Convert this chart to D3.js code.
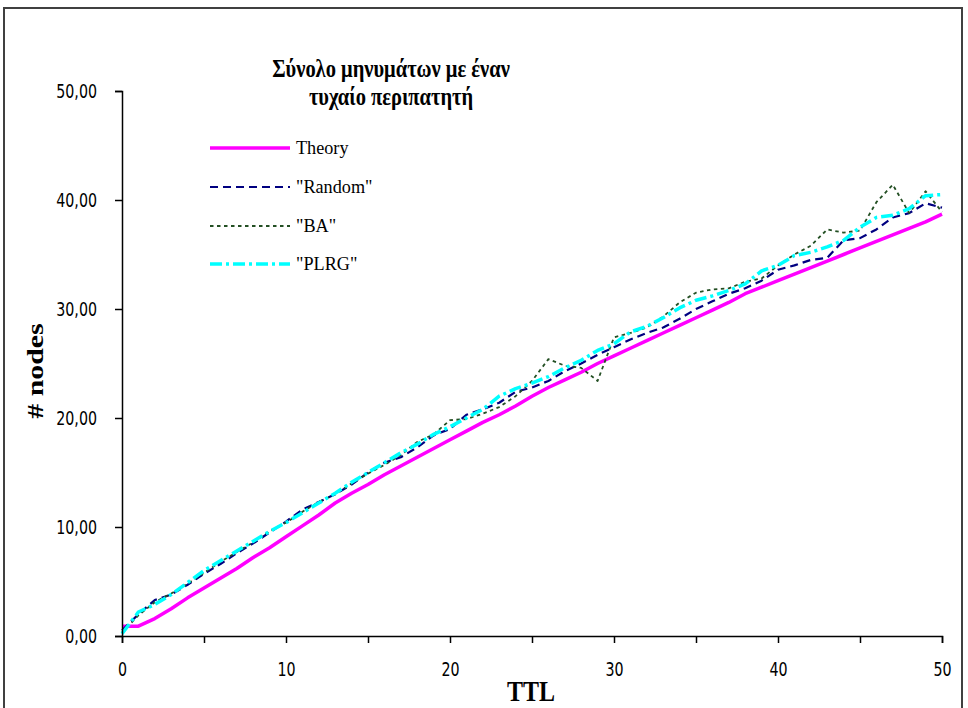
<!DOCTYPE html>
<html>
<head>
<meta charset="utf-8">
<script src="https://cdn.jsdelivr.net/npm/d3@7"></script>
<style>
  html, body { margin: 0; padding: 0; background: #fff; }
  svg { display: block; }
</style>
</head>
<body>
<svg id="chart" width="968" height="708"></svg>
<script>
// ---- data ----
const ttl = d3.range(0, 51);
const theory = [0.9,0.9,1.6,2.5,3.5,4.4,5.3,6.2,7.2,8.1,9.1,10.1,11.1,12.2,13.1,13.9,14.8,15.6,16.4,17.2,18.0,18.8,19.6,20.3,21.1,22.0,22.8,23.5,24.2,25.0,25.7,26.4,27.1,27.8,28.5,29.2,29.9,30.6,31.4,32.0,32.6,33.2,33.8,34.4,35.0,35.6,36.2,36.8,37.4,38.0,38.7];
const random = [0.5,2.0,3.3,3.8,4.7,5.7,6.6,7.6,8.5,9.5,10.5,11.6,12.3,13.0,13.9,15.0,15.9,16.4,17.3,18.4,19.0,20.3,20.8,21.4,22.4,22.8,23.4,24.3,25.0,25.8,26.5,27.2,27.8,28.3,29.1,30.0,30.7,31.4,31.9,32.6,33.6,34.0,34.5,34.7,36.3,36.5,37.3,38.4,38.8,39.7,39.3];
const ba = [0.3,1.9,3.1,3.9,4.8,5.8,6.8,7.7,8.6,9.6,10.4,11.4,12.3,13.0,14.0,14.9,15.7,16.6,17.8,18.5,19.8,19.9,20.4,21.0,22.0,23.4,25.4,24.8,24.6,23.4,27.4,27.8,28.3,29.3,30.6,31.5,31.8,31.9,32.5,32.8,34.0,35.0,35.8,37.3,37.0,37.2,39.8,41.4,38.8,40.8,38.9];
const plrg = [0.2,2.2,2.9,3.8,4.9,6.0,6.9,7.8,8.7,9.6,10.4,11.3,12.2,13.1,14.1,15.0,15.9,16.8,17.6,18.5,19.2,20.0,20.8,22.0,22.7,23.2,23.8,24.6,25.3,26.2,26.8,27.9,28.4,29.2,30.1,30.8,31.2,31.7,32.3,33.5,34.0,34.9,35.2,35.7,36.3,37.5,38.4,38.6,39.2,40.4,40.5];
const seriesNames = ["Theory", "\"Random\"", "\"BA\"", "\"PLRG\""];
const xTicks = [0, 10, 20, 30, 40, 50];
const xMinorTicks = [0, 5, 10, 15, 20, 25, 30, 35, 40, 45, 50];
const yTicks = [0, 10, 20, 30, 40, 50];
const titleLines = ["Σύνολο μηνυμάτων με έναν", "τυχαίο περιπατητή"];
const xTitle = "TTL";
const yTitle = "# nodes";

// ---- styles ----
const styles = [
  { color: "#ff00ff", width: 3.5, dash: null },
  { color: "#000080", width: 2.2, dash: "8,5" },
  { color: "#234f23", width: 1.8, dash: "3.5,3.5" },
  { color: "#00ffff", width: 3.5, dash: "12,4,3,4" }
];
const allSeries = [theory, random, ba, plrg];

const svg = d3.select("#chart");
const x = d3.scaleLinear().domain([0, 50]).range([122, 942]);
const y = d3.scaleLinear().domain([0, 50]).range([636, 91]);
const SY = 1.25; // vertical stretch of the original picture's text

// frame
svg.append("rect").attr("x", 4).attr("y", 8).attr("width", 958).attr("height", 710)
  .attr("fill", "#fff").attr("stroke", "#404040").attr("stroke-width", 2);

// lines
const line = d3.line().x((d, i) => x(ttl[i])).y(d => y(d));
allSeries.forEach((s, k) => {
  const st = styles[k];
  svg.append("path").datum(s)
    .attr("d", line)
    .attr("fill", "none")
    .attr("stroke", st.color)
    .attr("stroke-width", st.width)
    .attr("stroke-dasharray", st.dash)
    .attr("stroke-linejoin", "round");
});

// axes
const fmt = d => d3.format(".2f")(d).replace(".", ",");
const yAxis = svg.append("g").attr("transform", "translate(122,0)")
  .call(d3.axisLeft(y).tickValues(yTicks).tickFormat(fmt).tickSize(7).tickPadding(12));
const xAxis = svg.append("g").attr("transform", "translate(0,636)")
  .call(d3.axisBottom(x).tickValues(xMinorTicks)
    .tickFormat(d => xTicks.includes(d) ? d : "").tickSize(7).tickPadding(14));
[yAxis, xAxis].forEach(g => {
  g.select(".domain").attr("stroke", "#000").attr("stroke-width", 1.5);
  g.selectAll(".tick line").attr("stroke", "#000").attr("stroke-width", 1.5);
  g.selectAll("text").attr("fill", "#000")
    .style("font-family", "'DejaVu Sans', sans-serif").style("font-size", "15px");
});
yAxis.selectAll("text").attr("transform", `scale(0.95,${SY})`).attr("x", -25 / 0.95);
xAxis.selectAll("text").attr("transform", `scale(0.95,${SY})`).attr("y", 27 / SY);

function stretched(px, py, txt, size, weight, anchor, sx, sy, rot) {
  return svg.append("text")
    .attr("transform", `translate(${px},${py})` + (rot ? ` rotate(${rot})` : "") + ` scale(${sx},${sy})`)
    .attr("text-anchor", anchor)
    .style("font-family", "'Liberation Serif', serif").style("font-weight", weight)
    .style("font-size", size + "px").text(txt);
}

// title
titleLines.forEach((t, i) => stretched(391, 77 + i * 28, t, 20.5, "bold", "middle", 1, SY, 0));

// axis titles
stretched(531, 701, xTitle, 24, "bold", "middle", 1, SY, 0);
stretched(43, 371, yTitle, 23, "bold", "middle", 1.3, 1, -90);

// legend
const legendY = [148, 187, 226, 264];
seriesNames.forEach((n, k) => {
  const st = styles[k];
  svg.append("line").attr("x1", 210).attr("x2", 290).attr("y1", legendY[k]).attr("y2", legendY[k])
    .attr("stroke", st.color).attr("stroke-width", st.width).attr("stroke-dasharray", st.dash);
  stretched(296, legendY[k] + 6, n, 17, "normal", "start", 1.07, 1.15, 0);
});
</script>
</body>
</html>
